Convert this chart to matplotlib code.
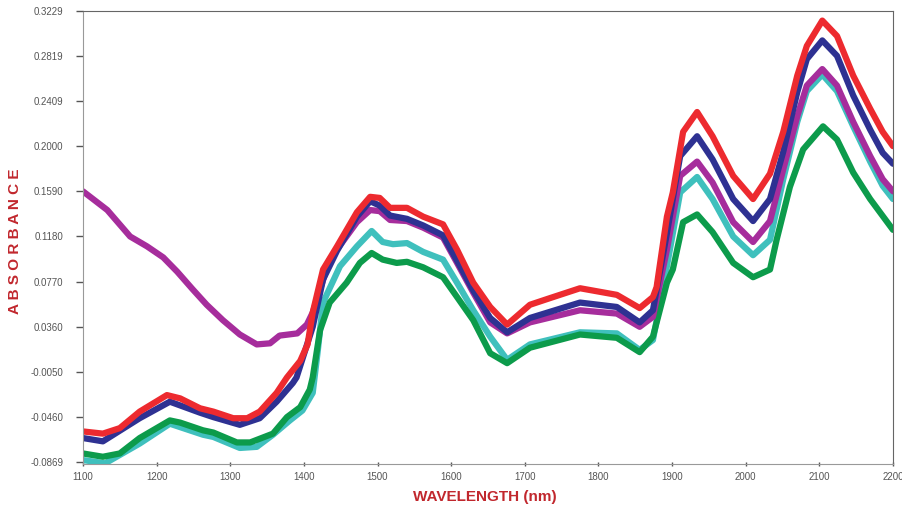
import numpy as np
import matplotlib.pyplot as plt

plt.rcParams['font.family'] = ['Liberation Sans', 'DejaVu Sans']

# wavelength (nm) / absorbance
red_x = [1100, 1127, 1150, 1177, 1214, 1232, 1259, 1277, 1304, 1323, 1340, 1363, 1377, 1395, 1405,
         1412, 1426, 1445, 1472, 1490, 1503, 1517, 1540, 1562, 1589, 1608, 1630, 1653, 1676, 1707,
         1734, 1775, 1825, 1856, 1874, 1879, 1893, 1901, 1915, 1934, 1955, 1983, 2010, 2033, 2051,
         2070, 2083, 2104, 2124, 2146, 2169, 2186, 2200]
red_y = [-0.059, -0.061, -0.056, -0.041, -0.026, -0.029, -0.038, -0.041, -0.047, -0.047, -0.041,
         -0.024, -0.010, 0.005, 0.020, 0.049, 0.088, 0.109, 0.140, 0.154, 0.153, 0.144, 0.144, 0.136,
         0.129, 0.106, 0.076, 0.054, 0.038, 0.056, 0.062, 0.071, 0.065, 0.053, 0.063, 0.072, 0.136,
         0.158, 0.213, 0.231, 0.209, 0.173, 0.152, 0.175, 0.213, 0.264, 0.291, 0.314, 0.300, 0.264,
         0.234, 0.213, 0.200]

blue_x = [1100, 1127, 1177, 1218, 1259, 1277, 1313, 1340, 1363, 1385, 1390, 1412, 1426, 1445, 1472,
          1490, 1503, 1517, 1540, 1562, 1589, 1608, 1630, 1653, 1676, 1707, 1775, 1825, 1856, 1874,
          1893, 1911, 1934, 1955, 1983, 2010, 2033, 2051, 2070, 2083, 2104, 2124, 2146, 2169, 2186,
          2200]
blue_y = [-0.065, -0.068, -0.047, -0.032, -0.042, -0.046, -0.053, -0.047, -0.032, -0.015, -0.010,
          0.036, 0.079, 0.105, 0.136, 0.150, 0.146, 0.137, 0.134, 0.128, 0.119, 0.096, 0.069, 0.044,
          0.031, 0.044, 0.058, 0.054, 0.040, 0.051, 0.121, 0.191, 0.209, 0.188, 0.152, 0.132, 0.152,
          0.195, 0.249, 0.279, 0.296, 0.282, 0.246, 0.215, 0.194, 0.184]

magenta_x = [1100, 1133, 1164, 1187, 1209, 1228, 1249, 1268, 1290, 1313, 1336, 1354, 1367, 1391,
             1404, 1412, 1422, 1435, 1472, 1490, 1503, 1517, 1540, 1562, 1589, 1608, 1630, 1653,
             1676, 1707, 1775, 1825, 1856, 1874, 1893, 1911, 1934, 1955, 1983, 2010, 2033, 2051,
             2070, 2083, 2104, 2124, 2146, 2169, 2186, 2200]
magenta_y = [0.159, 0.142, 0.118, 0.109, 0.099, 0.086, 0.070, 0.056, 0.042, 0.029, 0.020, 0.021,
             0.028, 0.030, 0.038, 0.049, 0.070, 0.097, 0.131, 0.142, 0.141, 0.133, 0.132, 0.126,
             0.117, 0.094, 0.067, 0.040, 0.030, 0.040, 0.051, 0.048, 0.036, 0.045, 0.106, 0.173,
             0.186, 0.167, 0.131, 0.113, 0.132, 0.179, 0.227, 0.255, 0.270, 0.255, 0.222, 0.191,
             0.170, 0.159]

cyan_x = [1100, 1130, 1177, 1218, 1263, 1277, 1313, 1336, 1358, 1381, 1398, 1412, 1419, 1426, 1449,
          1472, 1492, 1507, 1521, 1540, 1562, 1589, 1608, 1630, 1653, 1676, 1707, 1775, 1825, 1856,
          1874, 1893, 1911, 1934, 1955, 1983, 2010, 2033, 2051, 2070, 2083, 2104, 2124, 2146, 2169,
          2186, 2200]
cyan_y = [-0.085, -0.088, -0.070, -0.052, -0.062, -0.064, -0.074, -0.073, -0.062, -0.049, -0.040,
          -0.024, 0.015, 0.058, 0.091, 0.109, 0.123, 0.113, 0.111, 0.112, 0.104, 0.097, 0.076, 0.051,
          0.027, 0.006, 0.020, 0.031, 0.030, 0.015, 0.024, 0.091, 0.158, 0.172, 0.152, 0.118, 0.101,
          0.115, 0.170, 0.222, 0.250, 0.265, 0.250, 0.218, 0.186, 0.164, 0.152]

green_x = [1100, 1127, 1150, 1177, 1218, 1232, 1263, 1277, 1309, 1327, 1358, 1377, 1395, 1408, 1412,
           1422, 1435, 1458, 1476, 1492, 1507, 1526, 1540, 1562, 1589, 1608, 1630, 1653, 1676, 1707,
           1775, 1825, 1856, 1874, 1893, 1901, 1915, 1934, 1955, 1983, 2010, 2033, 2042, 2060, 2078,
           2105, 2124, 2146, 2169, 2200]
green_y = [-0.079, -0.082, -0.079, -0.065, -0.049, -0.051, -0.058, -0.060, -0.069, -0.069, -0.061,
           -0.046, -0.037, -0.021, -0.010, 0.033, 0.058, 0.076, 0.094, 0.103, 0.097, 0.094, 0.095,
           0.090, 0.081, 0.063, 0.042, 0.012, 0.003, 0.017, 0.029, 0.026, 0.013, 0.027, 0.076, 0.088,
           0.131, 0.138, 0.122, 0.094, 0.081, 0.088, 0.115, 0.163, 0.197, 0.218, 0.206, 0.176, 0.152,
           0.124]

y_ticks = [0.3229, 0.2819, 0.2409, 0.2000, 0.1590, 0.1180, 0.0770, 0.0360, -0.0050, -0.0460, -0.0869]
y_labels = ['0.3229', '0.2819', '0.2409', '0.2000', '0.1590', '0.1180', '0.0770', '0.0360',
            '-0.0050', '-0.0460', '-0.0869']
x_ticks = [1100, 1200, 1300, 1400, 1500, 1600, 1700, 1800, 1900, 2000, 2100, 2200]

fig = plt.figure(figsize=(9.02, 5.14), dpi=100)
ax = fig.add_axes([0.092, 0.097, 0.898, 0.882])

series = [
    (cyan_x, cyan_y, '#3fc0bd'),
    (green_x, green_y, '#0c9b4b'),
    (magenta_x, magenta_y, '#a62d9c'),
    (blue_x, blue_y, '#2e3192'),
    (red_x, red_y, '#ed2a2f'),
]
for xs, ys, c in series:
    ax.plot(xs, ys, color=c, lw=4.5, solid_joinstyle='round', solid_capstyle='round')

ax.set_xlim(1100, 2200)
ax.set_ylim(-0.0887, 0.3229)
ax.set_yticks(y_ticks)
ax.set_yticklabels(y_labels)
ax.set_xticks(x_ticks)
ax.tick_params(axis='both', labelsize=7, colors='#555555', width=1)
ax.tick_params(axis='y', length=5, pad=9)
ax.tick_params(axis='x', direction='inout', length=3, pad=4)

for s in ['left', 'bottom']:
    ax.spines[s].set_color('#999999')
for s in ['top', 'right']:
    ax.spines[s].set_color('#666666')

fig.text(0.017, 0.53, 'A B S O R B A N C E', rotation=90, color='#c1272d',
         fontsize=11, fontweight='bold', ha='center', va='center')
fig.text(0.537, 0.033, 'WAVELENGTH (nm)', color='#c1272d', fontsize=11,
         fontweight='bold', ha='center', va='center')

fig.savefig('out.png', dpi=100)
